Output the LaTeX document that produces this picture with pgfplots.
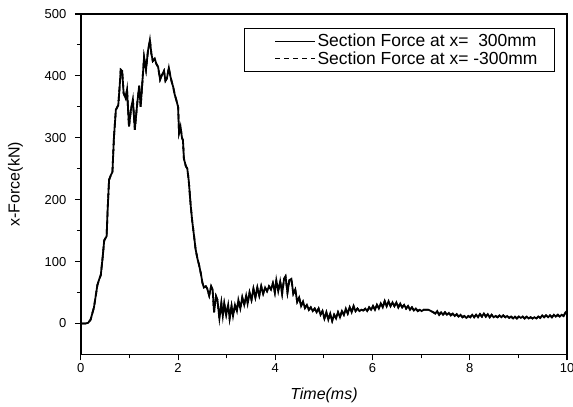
\documentclass[border=0pt]{standalone}
\usepackage{fontspec}
\setmainfont{Liberation Sans}
\usepackage{pgfplots}
\usepackage{pgfplotstable}
\pgfplotsset{compat=1.18}

% section force at x = 300 mm; the -300 mm trace lies on top of it
\pgfplotstableread{
t v
0.00 0
0.10 0
0.15 1
0.20 6
0.27 26
0.34 62
0.38 72
0.41 78
0.45 108
0.48 134
0.53 141
0.55 182
0.58 232
0.62 240
0.65 245
0.68 300
0.72 345
0.77 353
0.80 385
0.82 410
0.85 408
0.88 372
0.92 364
0.95 378
0.99 318
1.03 345
1.07 362
1.11 313
1.16 356
1.20 384
1.23 350
1.27 395
1.30 430
1.34 410
1.38 440
1.42 458
1.45 436
1.48 424
1.52 428
1.55 420
1.59 414
1.63 394
1.67 402
1.71 408
1.74 392
1.77 396
1.81 413
1.84 400
1.87 390
1.90 382
1.93 370
1.96 362
2.00 350
2.02 308
2.05 318
2.08 300
2.10 296
2.12 266
2.16 254
2.19 250
2.22 230
2.26 190
2.29 166
2.33 140
2.36 120
2.40 104
2.43 95
2.47 80
2.50 66
2.53 58
2.57 60
2.60 56
2.64 45
2.68 60
2.71 55
2.74 18
2.78 44
2.81 38
2.85 8
2.89 33
2.92 12
2.95 32
2.99 14
3.03 30
3.06 8
3.10 28
3.13 12
3.17 30
3.21 20
3.24 38
3.28 24
3.32 42
3.36 30
3.40 45
3.43 32
3.47 50
3.51 38
3.55 56
3.59 42
3.63 58
3.67 45
3.71 60
3.75 48
3.79 58
3.83 52
3.87 60
3.91 55
3.95 65
3.99 50
4.02 70
4.06 52
4.10 68
4.14 48
4.18 72
4.21 76
4.25 50
4.29 70
4.33 72
4.37 48
4.41 55
4.45 35
4.49 42
4.53 28
4.57 35
4.61 25
4.65 30
4.69 22
4.73 26
4.77 20
4.81 24
4.85 18
4.89 24
4.93 14
4.97 20
5.01 8
5.05 18
5.09 6
5.13 16
5.17 4
5.21 14
5.25 8
5.29 18
5.33 10
5.37 20
5.41 14
5.45 24
5.49 16
5.53 26
5.57 18
5.61 28
5.65 20
5.69 24
5.73 20
5.77 22
5.81 21
5.85 24
5.89 20
5.93 26
5.97 22
6.01 28
6.05 22
6.09 30
6.13 24
6.17 32
6.21 26
6.25 36
6.29 28
6.33 36
6.37 28
6.41 34
6.45 28
6.49 34
6.53 26
6.57 32
6.61 26
6.65 30
6.69 24
6.73 28
6.77 22
6.81 26
6.85 21
6.89 24
6.93 20
6.97 22
7.01 20
7.05 22
7.10 22
7.15 22
7.20 20
7.25 18
7.29 16
7.33 20
7.37 14
7.41 18
7.45 14
7.49 18
7.53 14
7.57 17
7.61 13
7.65 16
7.69 12
7.73 15
7.77 11
7.81 14
7.85 10
7.89 12
7.93 9
7.97 12
8.01 10
8.05 14
8.09 10
8.13 14
8.17 10
8.21 15
8.25 11
8.29 16
8.33 11
8.37 15
8.41 10
8.45 14
8.49 10
8.53 12
8.57 10
8.61 13
8.65 10
8.69 13
8.73 10
8.77 12
8.81 9
8.85 11
8.89 8
8.93 11
8.97 8
9.01 11
9.05 9
9.09 11
9.13 8
9.17 11
9.21 8
9.25 10
9.29 8
9.33 10
9.37 8
9.41 11
9.45 9
9.49 13
9.53 10
9.57 13
9.61 10
9.65 13
9.69 10
9.73 14
9.77 11
9.81 14
9.85 11
9.89 14
9.93 12
9.97 18
10.0 20
}\force

\begin{document}
\begin{tikzpicture}
\begin{axis}[
  scale only axis,
  width=487pt, height=341pt,
  xmin=0, xmax=10, ymin=-50, ymax=500,
  xtick={0,2,...,10}, ytick={0,100,...,500},
  minor x tick num=1, minor y tick num=1,
  xtick pos=bottom, ytick pos=left,
  tick align=outside,
  major tick length=6pt, minor tick length=4pt,
  axis line style={line width=1.5pt},
  every tick/.style={black, line width=1.1pt},
  /pgf/number format/assume math mode=true,
  ticklabel style={font=\fontsize{13}{15}\selectfont},
  yticklabel style={xshift=-5pt},
  xlabel={\textit{Time(ms)}},
  ylabel={x-Force(kN)},
  label style={font=\fontsize{16}{18}\selectfont},
  xlabel style={yshift=-8pt},
  ylabel style={yshift=15pt},
  legend cell align=left,
  legend style={at={(0.975,0.959)}, anchor=north east,
    draw=black, line width=0.8pt, font=\fontsize{17.5}{20}\selectfont,
    inner xsep=15pt, inner ysep=4pt, row sep=-1pt},
  legend image code/.code={\path (-15pt,0pt); \draw[#1, line width=1.1pt] (0pt,0pt) -- (40pt,0pt);},
]
\addplot[black, line width=1.8pt] table[x=t, y=v] {\force};
\addlegendentry{Section Force at x=\ \ 300mm}
\addplot[black, line width=1.8pt, dash pattern=on 5pt off 4pt] table[x=t, y=v] {\force};
\addlegendentry{Section Force at x= -300mm}
\end{axis}
\pgfresetboundingbox
\path ([shift={(-81pt,-52pt)}]current axis.south west) rectangle ([shift={(6pt,14pt)}]current axis.north east);
\end{tikzpicture}
\end{document}
